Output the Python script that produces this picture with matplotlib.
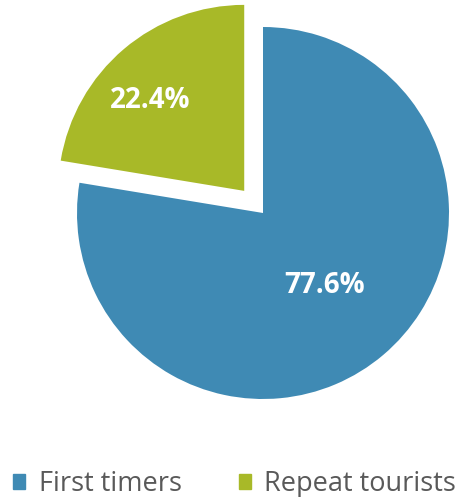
import numpy as np
import matplotlib.pyplot as plt
from matplotlib.patches import Patch

labels = ["First timers", "Repeat tourists"]
shares = [77.6, 22.4]
colors = ["#3F8AB4", "#A8B928"]

plt.rcParams['font.family'] = ['Open Sans', 'DejaVu Sans']

fig = plt.figure(figsize=(4.72, 4.97), dpi=100)
ax = fig.add_axes([0, 0, 1, 1])

# pie starts at the top and runs clockwise, second slice pulled out
wedges, _ = ax.pie(shares, colors=colors, startangle=90, counterclock=False,
                   explode=[0, 0.156], radius=1,
                   wedgeprops=dict(linewidth=0))

# percentage labels inside each slice
dist = [0.51, 0.70]
shift = [0, 6]
for w, v, d, s in zip(wedges, shares, dist, shift):
    ang = (w.theta1 + w.theta2) / 2 + s
    cx, cy = w.center
    x = cx + d * np.cos(np.deg2rad(ang))
    y = cy + d * np.sin(np.deg2rad(ang))
    ax.text(x, y, f"{v:.1f}%", color="white", fontsize=20, fontweight="bold",
            ha="center", va="center")

ax.set_aspect("equal")
ax.set_xlim(-263 / 186, (472 - 263) / 186)
ax.set_ylim(-(497 - 213) / 186, 213 / 186)
ax.axis("off")

handles = [Patch(color=c) for c in colors]
fig.legend(handles, labels, loc="center", bbox_to_anchor=(0.497, 0.026),
           ncol=2, frameon=False, fontsize=19.5, labelcolor="#595959",
           handlelength=0.45, handleheight=0.45, handletextpad=0.5,
           columnspacing=2.1, borderpad=0)

plt.savefig("out.png", dpi=100)
